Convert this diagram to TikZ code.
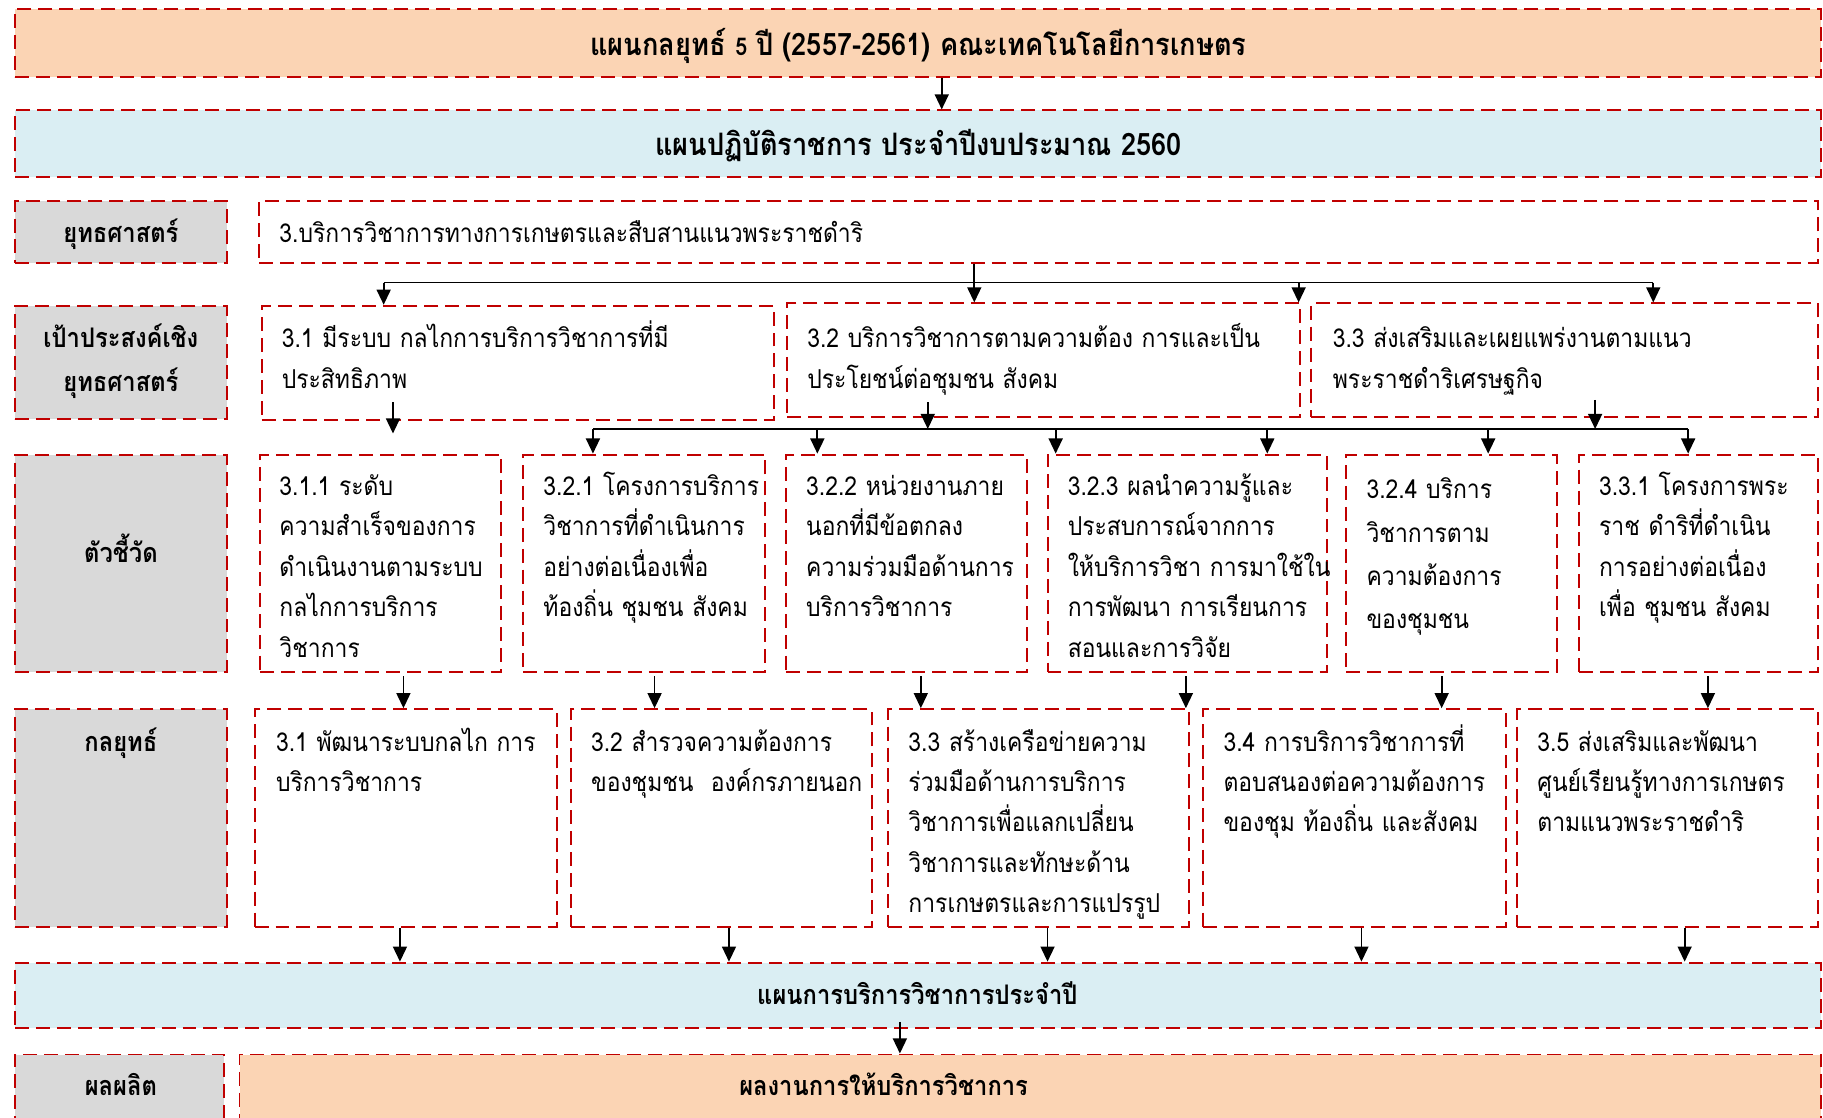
\documentclass[tikz,border=0pt]{standalone}
\usepackage{fontspec}
\newfontfamily\thai[Script=Thai,FakeStretch=0.88]{Loma}
\usetikzlibrary{arrows.meta,fit}
\definecolor{dred}{HTML}{C00000}
\definecolor{peach}{HTML}{FBD4B4}
\definecolor{lblue}{HTML}{DAEEF3}
\definecolor{lgray}{HTML}{D9D9D9}
\newcommand\bodyfont{\thai\fontsize{11.2}{17.4}\selectfont}
\newcommand\headfont{\thai\bfseries\fontsize{11.6}{17.4}\selectfont}
\newcommand\bigfont{\thai\bfseries\fontsize{13.3}{17.4}\selectfont}
\begin{document}
\begin{tikzpicture}[x=0.5pt,y=-0.5pt,
  box/.style={draw=dred, line width=0.85pt, dash pattern=on 6pt off 3pt, inner sep=0pt},
  wbox/.style={box, fill=white},
  pbox/.style={box, fill=peach},
  bbox/.style={box, fill=lblue},
  gbox/.style={box, fill=lgray},
  tx/.style={anchor=base west, inner sep=0pt, text width=#1, align=left, font=\bodyfont},
  hd/.style={anchor=base, inner sep=0pt, font=\headfont, align=center},
  bighd/.style={hd, font=\bigfont},
  arr/.style={-{Triangle[length=6.5pt,width=6pt]}, line width=0.75pt, black},
  bus/.style={line width=0.75pt, black}]
\path[clip] (0,0) rectangle (1568,961);
\fill[white] (0,0) rectangle (1568,961);

% ---- top rows
\node[pbox, fit={(13,8)(1566,66)}] (top) {};
\node[bighd] (ttop) at (790,48) {แผนกลยุทธ์ {\fontsize{10.5}{12}\selectfont 5} ปี (2557-2561) คณะเทคโนโลยีการเกษตร};
\node[bbox, fit={(13,95)(1566,152)}] (plan) {};
\node[bighd] (tplan) at (790,134) {แผนปฏิบัติราชการ ประจำปีงบประมาณ 2560};

% ---- strategy
\node[gbox, fit={(13,173)(195,226)}] (lstr) {};
\node[hd] (tlstr) at (104,209) {ยุทธศาสตร์};
\node[wbox, fit={(223,173)(1564,226)}] (str) {};
\node[tx=1200pt] (tstr) at (240,209) {3.บริการวิชาการทางการเกษตรและสืบสานแนวพระราชดำริ};

% ---- goals
\node[gbox, fit={(13,263)(195,360)}] (lgoal) {};
\node[hd] (tlgoal) at (104,337) {เป้าประสงค์เชิง\\[1.6pt]ยุทธศาสตร์};
\node[wbox, fit={(225,263)(666,361)}] (g1) {};
\node[wbox, fit={(677,261)(1118,359)}] (g2) {};
\node[wbox, fit={(1128,261)(1564,359)}] (g3) {};
\node[tx=400pt] (tg1) at (242,299) {3.1 มีระบบ กลไกการบริการวิชาการที่มี\\ประสิทธิภาพ};
\node[tx=400pt] (tg2) at (694,299) {3.2 บริการวิชาการตามความต้อง การและเป็น\\ประโยชน์ต่อชุมชน สังคม};
\node[tx=400pt] (tg3) at (1146,299) {3.3 ส่งเสริมและเผยแพร่งานตามแนว\\พระราชดำริเศรษฐกิจ};

% ---- indicators
\node[gbox, fit={(13,391)(195,578)}] (lind) {};
\node[hd] (tlind) at (104,484) {ตัวชี้วัด};
\node[wbox, fit={(224,391)(431,578)}] (i1) {};
\node[wbox, fit={(450,391)(658,578)}] (i2) {};
\node[wbox, fit={(676,391)(883,578)}] (i3) {};
\node[wbox, fit={(901,391)(1141,578)}] (i4) {};
\node[wbox, fit={(1158,391)(1339,578)}] (i5) {};
\node[wbox, fit={(1358,391)(1564,578)}] (i6) {};
\node[tx=300pt] (ti1) at (240,426) {3.1.1 ระดับ\\ความสำเร็จของการ\\ดำเนินงานตามระบบ\\กลไกการบริการ\\วิชาการ};
\node[tx=300pt] (ti2) at (467,426) {3.2.1 โครงการบริการ\\วิชาการที่ดำเนินการ\\อย่างต่อเนื่องเพื่อ\\ท้องถิ่น ชุมชน สังคม};
\node[tx=300pt] (ti3) at (693,426) {3.2.2 หน่วยงานภาย\\นอกที่มีข้อตกลง\\ความร่วมมือด้านการ\\บริการวิชาการ};
\node[tx=300pt] (ti4) at (918,426) {3.2.3 ผลนำความรู้และ\\ประสบการณ์จากการ\\ให้บริการวิชา การมาใช้ใน\\การพัฒนา การเรียนการ\\สอนและการวิจัย};
\node[tx=300pt, font=\thai\fontsize{11.2}{18.6}\selectfont] (ti5) at (1175,429) {3.2.4 บริการ\\วิชาการตาม\\ความต้องการ\\ของชุมชน};
\node[tx=300pt] (ti6) at (1375,426) {3.3.1 โครงการพระ\\ราช ดำริที่ดำเนิน\\การอย่างต่อเนื่อง\\เพื่อ ชุมชน สังคม};

% ---- tactics
\node[gbox, fit={(13,610)(195,797)}] (ltac) {};
\node[hd] (tltac) at (104,646) {กลยุทธ์};
\node[wbox, fit={(219,610)(479,797)}] (k1) {};
\node[wbox, fit={(491,610)(750,797)}] (k2) {};
\node[wbox, fit={(764,610)(1023,797)}] (k3) {};
\node[wbox, fit={(1035,610)(1295,797)}] (k4) {};
\node[wbox, fit={(1305,610)(1564,797)}] (k5) {};
\node[tx=300pt] (tk1) at (237,646) {3.1 พัฒนาระบบกลไก การ\\บริการวิชาการ};
\node[tx=300pt] (tk2) at (508,646) {3.2 สำรวจความต้องการ\\ของชุมชน\ \ องค์กรภายนอก};
\node[tx=300pt] (tk3) at (781,646) {3.3 สร้างเครือข่ายความ\\ร่วมมือด้านการบริการ\\วิชาการเพื่อแลกเปลี่ยน\\วิชาการและทักษะด้าน\\การเกษตรและการแปรรูป};
\node[tx=300pt] (tk4) at (1052,646) {3.4 การบริการวิชาการที่\\ตอบสนองต่อความต้องการ\\ของชุม ท้องถิ่น และสังคม};
\node[tx=300pt] (tk5) at (1322,646) {3.5 ส่งเสริมและพัฒนา\\ศูนย์เรียนรู้ทางการเกษตร\\ตามแนวพระราชดำริ};

% ---- annual plan and output
\node[bbox, fit={(13,828)(1566,884)}] (annual) {};
\node[hd] (tannual) at (789,864) {แผนการบริการวิชาการประจำปี};
\node[gbox, fit={(13,907)(193,980)}] (lout) {};
\node[hd] (tlout) at (104,942) {ผลผลิต};
\node[pbox, fit={(206,907)(1566,980)}] (out) {};
\node[hd] (tout) at (760,942) {ผลงานการให้บริการวิชาการ};

% ---- x positions of connectors
\foreach \n/\v in {a/810,b/838,c/330,d/1117,e/1422,f/338,g/798,h/1372,
  i/510,j/703,k/908,l/1090,m/1280,n/1452,
  o/347,p/563,q/792,r/1020,s/1240,t/1469,
  u/344,v/627,w/901,x/1171,y/1449,z/774}
  {\coordinate (x\n) at (\v,0);}
\coordinate (busA) at (0,243);
\coordinate (busB) at (0,369);

% ---- connectors
\draw[arr] (top.south -| xa) -- (plan.north -| xa);
\draw[arr] (str.south -| xb) -- (g2.north -| xb);
\draw[bus] (busA -| xc) -- (busA -| xe);
\draw[arr] (busA -| xc) -- (g1.north -| xc);
\draw[arr] (busA -| xd) -- (g2.north -| xd);
\draw[arr] (busA -| xe) -- (g3.north -| xe);

\draw[arr] ([yshift=8pt]g1.south -| xf) -- ([yshift=-5.5pt]g1.south -| xf);
\draw[arr] ([yshift=7pt]g2.south -| xg) -- (busB -| xg);
\draw[arr] ([yshift=8pt]g3.south -| xh) -- (busB -| xh);
\draw[bus] (busB -| xi) -- (busB -| xn);
\foreach \c/\b in {i/i2,j/i3,k/i4,l/i4,m/i5,n/i6}
  {\draw[arr] (busB -| x\c) -- (\b.north -| x\c);}

\foreach \c/\a/\b in {o/i1/k1,p/i2/k2,q/i3/k3,r/i4/k3,s/i5/k4,t/i6/k5}
  {\draw[arr] ([yshift=-1.5pt]\a.south -| x\c) -- (\b.north -| x\c);}

\foreach \c/\a in {u/k1,v/k2,w/k3,x/k4,y/k5}
  {\draw[arr] (\a.south -| x\c) -- (annual.north -| x\c);}

\draw[arr] ([yshift=3pt]annual.south -| xz) -- (out.north -| xz);
\end{tikzpicture}
\end{document}
